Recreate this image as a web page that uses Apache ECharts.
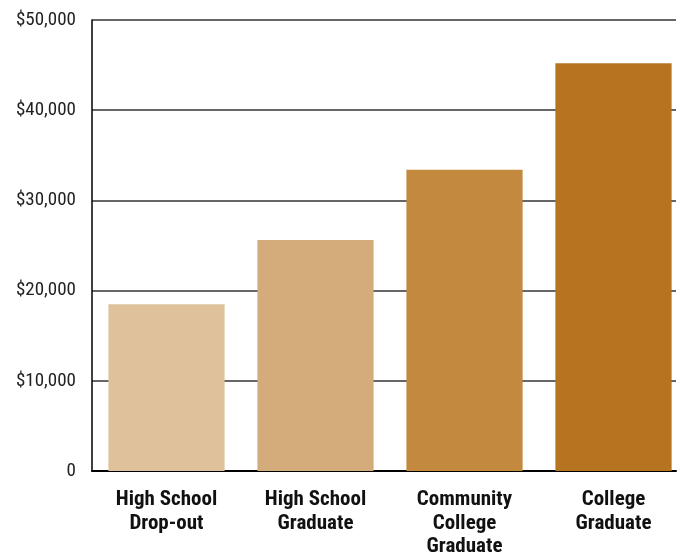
<!DOCTYPE html>
<html><head><meta charset="utf-8">
<script src="https://cdn.jsdelivr.net/npm/echarts@6/dist/echarts.min.js"></script>
<style>html,body{margin:0;padding:0;background:#fff}#c{width:681px;height:552px}</style>
</head><body><div id="c"></div>
<script>
const categories = ['High School\nDrop-out', 'High School\nGraduate', 'Community\nCollege\nGraduate', 'College\nGraduate'];
const incomes = [18500, 25600, 33400, 45200];
const barColors = ['#DFC29B', '#D4AB7B', '#C2893F', '#B77420'];
const yTicks = [0, 10000, 20000, 30000, 40000, 50000];

const font = '"Roboto Condensed", "Liberation Sans Narrow", sans-serif';
const chart = echarts.init(document.getElementById('c'));
chart.setOption({
  animation: false,
  grid: [
    {left: 92, right: 5, top: 20, bottom: 81, containLabel: false, outerBoundsMode: 'none'},
    {left: 92, width: 596, top: 20, bottom: 81, containLabel: false, outerBoundsMode: 'none'}
  ],
  xAxis: [
    {type: 'category', gridIndex: 0, data: categories, axisLabel: {show: false}, axisTick: {show: false},
     axisLine: {lineStyle: {color: '#000', width: 2}}},
    {type: 'category', gridIndex: 1, data: categories, axisTick: {show: false}, axisLine: {show: false},
     axisLabel: {interval: 0, hideOverlap: false, margin: 17, fontFamily: font, fontWeight: 'bold', fontSize: 21, color: '#111', lineHeight: 23.5}}
  ],
  yAxis: [
    {type: 'value', gridIndex: 0, min: 0, max: 50000, interval: 10000,
     axisLine: {show: true, lineStyle: {color: '#000', width: 1.5}}, axisTick: {show: false},
     splitLine: {lineStyle: {color: '#333', width: 1.5}},
     axisLabel: {margin: 16, fontFamily: font, fontSize: 19, color: '#222',
       formatter: v => v === 0 ? '0' : '$' + v.toLocaleString('en-US')}},
    {type: 'value', gridIndex: 1, min: 0, max: 50000, interval: 10000, show: false}
  ],
  series: [{
    type: 'bar', xAxisIndex: 1, yAxisIndex: 1, barCategoryGap: '22%',
    data: incomes.map((v, i) => ({value: v, itemStyle: {color: barColors[i]}}))
  }]
});
</script></body></html>
